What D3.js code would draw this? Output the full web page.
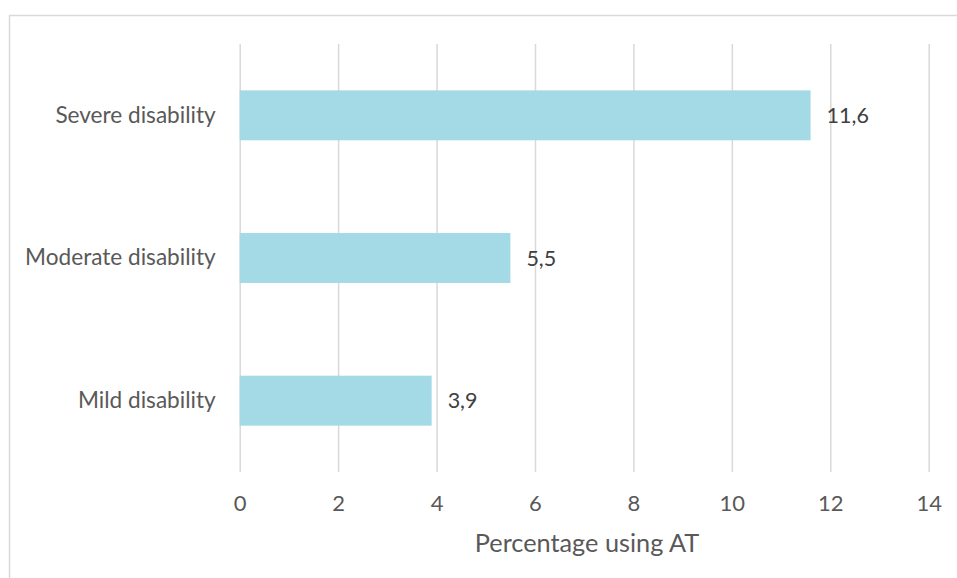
<!DOCTYPE html>
<html>
<head>
<meta charset="utf-8">
<script src="https://cdn.jsdelivr.net/npm/d3@7"></script>
<style>
  html, body { margin: 0; padding: 0; background: #ffffff; }
  svg { display: block; }
  text { font-family: Lato, "Open Sans", sans-serif; }
</style>
</head>
<body>
<svg id="chart" width="957" height="578"></svg>
<script>
// ---- data ----
const categories = ["Severe disability", "Moderate disability", "Mild disability"];
const values = [11.6, 5.5, 3.9];
const xTicks = [0, 2, 4, 6, 8, 10, 12, 14];
const xTitle = "Percentage using AT";

// ---- layout ----
const W = 957, H = 578;
const plot = { left: 239.7, right: 928.7, top: 44, bottom: 472 };
const fontSize = 22;

const svg = d3.select("#chart");

svg.append("rect")
  .attr("x", 9.5).attr("y", 15.5)
  .attr("width", 1000).attr("height", 700)
  .attr("fill", "#ffffff")
  .attr("stroke", "#d9d9d9").attr("stroke-width", 1.5);

const x = d3.scaleLinear().domain([0, 14]).range([plot.left, plot.right]);
const y = d3.scaleBand().domain(categories)
  .range([plot.top, plot.bottom])
  .paddingInner(0.65).paddingOuter(0.325);

const fmt = d3.formatLocale({ decimal: ",", thousands: ".", grouping: [3], currency: ["", ""] }).format(".1f");

// x axis with gridlines
const xAxis = svg.append("g")
  .attr("transform", `translate(0,${plot.bottom})`)
  .call(d3.axisBottom(x).tickValues(xTicks).tickFormat(d3.format("d"))
    .tickSize(-(plot.bottom - plot.top)).tickPadding(23.5));
xAxis.select(".domain").remove();
xAxis.selectAll(".tick line").attr("stroke", "#d9d9d9").attr("stroke-width", 1.5);
xAxis.selectAll(".tick text")
  .attr("fill", "#595959").attr("font-size", fontSize)
  .style("font-family", "Lato, 'Open Sans', sans-serif");

// bars
svg.append("g").selectAll("rect")
  .data(categories)
  .join("rect")
  .attr("x", x(0))
  .attr("y", d => y(d))
  .attr("width", (d, i) => x(values[i]) - x(0))
  .attr("height", y.bandwidth())
  .attr("fill", "#a3dae6");

// y axis (category labels)
const yAxis = svg.append("g")
  .attr("transform", `translate(${plot.left},0)`)
  .call(d3.axisLeft(y).tickSize(0).tickPadding(24));
yAxis.select(".domain").remove();
yAxis.selectAll(".tick text")
  .attr("fill", "#595959").attr("font-size", 22.6)
  .style("font-family", "Lato, 'Open Sans', sans-serif");

// value labels
svg.append("g").selectAll("text")
  .data(categories)
  .join("text")
  .attr("x", (d, i) => x(values[i]) + 16)
  .attr("y", d => y(d) + y.bandwidth() / 2)
  .attr("dy", "0.35em")
  .attr("fill", "#404040")
  .attr("font-size", 21.5)
  .text((d, i) => fmt(values[i]));

// axis title
svg.append("text")
  .attr("x", 587)
  .attr("y", 552)
  .attr("text-anchor", "middle")
  .attr("fill", "#595959")
  .attr("font-size", 25.3)
  .text(xTitle);
</script>
</body>
</html>
